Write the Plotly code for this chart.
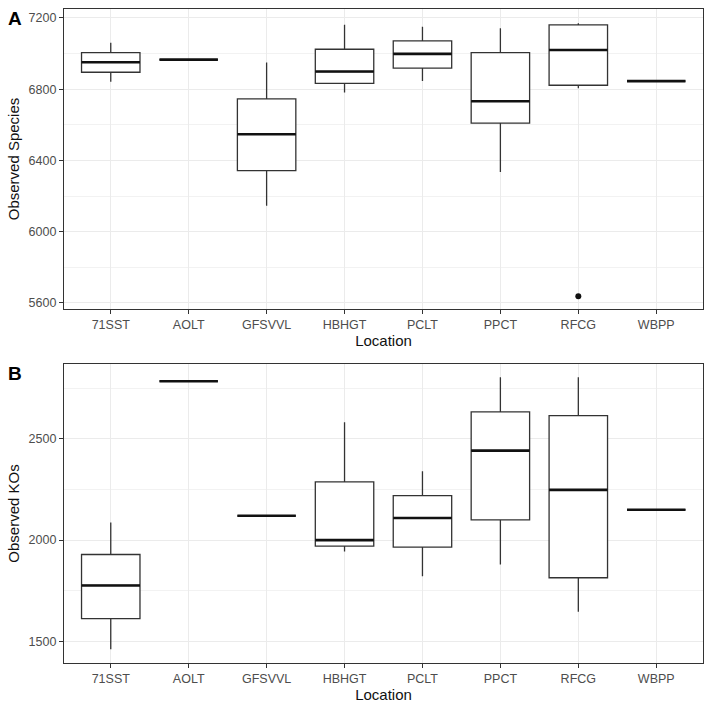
import plotly.graph_objects as go
from plotly.subplots import make_subplots

locations = ["71SST", "AOLT", "GFSVVL", "HBHGT", "PCLT", "PPCT", "RFCG", "WBPP"]

# Panel A: Observed Species
sp_low = [6841, 6966, 6146, 6781, 6846, 6335, 6805, 6845]
sp_q1 = [6895, 6966, 6343, 6833, 6918, 6609, 6822, 6845]
sp_med = [6951, 6966, 6547, 6899, 6998, 6732, 7020, 6845]
sp_q3 = [7005, 6966, 6745, 7024, 7071, 7005, 7161, 6845]
sp_high = [7061, 6966, 6949, 7161, 7151, 7142, 7170, 6845]
sp_out_x = ["RFCG"]
sp_out_y = [5638]

# Panel B: Observed KOs
ko_low = [1461, 2785, 2120, 1944, 1822, 1880, 1646, 2150]
ko_q1 = [1612, 2785, 2120, 1970, 1965, 2100, 1814, 2150]
ko_med = [1776, 2785, 2120, 2000, 2109, 2442, 2248, 2150]
ko_q3 = [1929, 2785, 2120, 2288, 2220, 2633, 2615, 2150]
ko_high = [2087, 2785, 2120, 2582, 2340, 2804, 2804, 2150]

FONT = "Liberation Sans, Arial, sans-serif"
EDGE = "#333333"

fig = make_subplots(rows=2, cols=1, vertical_spacing=0.0841)

def add_panel(row, low, q1, med, q3, high):
    fig.add_trace(go.Box(
        x=locations, q1=q1, median=med, q3=q3, lowerfence=low, upperfence=high,
        width=0.75, whiskerwidth=0, fillcolor="white",
        line=dict(color=EDGE, width=1.3), boxpoints=False,
        showlegend=False, hoverinfo="skip"), row=row, col=1)
    fig.add_trace(go.Box(
        x=locations, q1=med, median=med, q3=med, lowerfence=med, upperfence=med,
        width=0.75, whiskerwidth=0, fillcolor="rgba(0,0,0,0)",
        line=dict(color="#111111", width=2.6), boxpoints=False,
        showlegend=False, hoverinfo="skip"), row=row, col=1)

add_panel(1, sp_low, sp_q1, sp_med, sp_q3, sp_high)
fig.add_trace(go.Scatter(x=sp_out_x, y=sp_out_y, mode="markers",
                         marker=dict(color="#111111", size=6),
                         showlegend=False, hoverinfo="skip"), row=1, col=1)
add_panel(2, ko_low, ko_q1, ko_med, ko_q3, ko_high)

axis_common = dict(
    showline=True, mirror=True, linecolor=EDGE, linewidth=1.2,
    ticks="outside", ticklen=4, tickcolor=EDGE, tickwidth=1,
    tickfont=dict(family=FONT, size=12.5, color="#4d4d4d"),
    showgrid=True, gridcolor="#ebebeb", gridwidth=1, zeroline=False,
)

for ax in ["xaxis", "xaxis2"]:
    fig.layout[ax].update(axis_common)
    fig.layout[ax].update(
        type="category", categoryorder="array", categoryarray=locations,
        range=[-0.6, 7.6],
        title=dict(text="Location", font=dict(family=FONT, size=15, color="#111111"), standoff=1),
    )

fig.layout.yaxis.update(axis_common)
fig.layout.yaxis.update(
    domain=[0.5413, 1.0], range=[5566, 7250], tick0=5600, dtick=400,
    minor=dict(showgrid=True, gridcolor="#f2f2f2", gridwidth=0.6, dtick=200, tick0=5600),
    title=dict(text="Observed Species", font=dict(family=FONT, size=15, color="#111111"), standoff=5),
)
fig.layout.yaxis2.update(axis_common)
fig.layout.yaxis2.update(
    domain=[0.0, 0.4572], range=[1393, 2870], tick0=1500, dtick=500,
    minor=dict(showgrid=True, gridcolor="#f2f2f2", gridwidth=0.6, dtick=250, tick0=1500),
    title=dict(text="Observed KOs", font=dict(family=FONT, size=15, color="#111111"), standoff=5),
)

fig.add_annotation(text="<b>A</b>", xref="paper", yref="paper", x=-0.091, y=0.986,
                   xanchor="left", yanchor="middle", showarrow=False,
                   font=dict(family=FONT, size=19, color="black"))
fig.add_annotation(text="<b>B</b>", xref="paper", yref="paper", x=-0.091, y=0.443,
                   xanchor="left", yanchor="middle", showarrow=False,
                   font=dict(family=FONT, size=19, color="black"))

fig.update_layout(
    width=711, height=712,
    margin=dict(l=64, r=8, t=9, b=49),
    plot_bgcolor="white", paper_bgcolor="white",
    boxmode="overlay",
    font=dict(family=FONT),
)

fig.write_html("out.html")
